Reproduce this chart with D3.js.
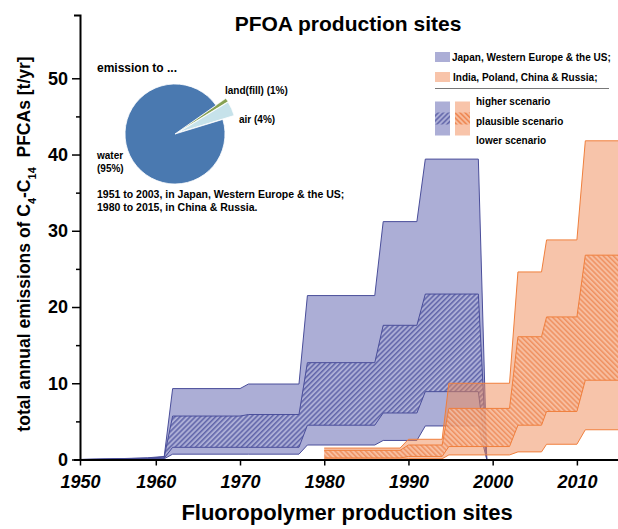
<!DOCTYPE html>
<html>
<head>
<meta charset="utf-8">
<script src="https://cdn.jsdelivr.net/npm/d3@7"></script>
<style>
body { margin: 0; background: #fff; }
svg { display: block; font-family: "Liberation Sans", Arial, sans-serif; }
</style>
</head>
<body>
<div id="chart"></div>
<script>
// Japan, Western Europe & the US (1951 - 1999)
const blueYears      = [1951, 1953, 1956, 1959, 1961, 1962, 1970, 1971, 1977, 1978, 1986, 1987, 1991, 1992, 1998.3, 1999.3];
const blueHigher     = [0, 0.05, 0.12, 0.22, 0.4, 9.3, 9.3, 9.9, 9.9, 21.5, 21.5, 31.2, 31.2, 39.4, 39.4, 0];
const bluePlausHigh  = [0, 0.04, 0.1, 0.18, 0.32, 5.7, 5.7, 5.9, 5.9, 12.7, 12.7, 17.6, 17.6, 21.7, 21.7, 0];
const bluePlausLow   = [0, 0.02, 0.05, 0.1, 0.18, 1.6, 1.6, 1.6, 1.6, 4.5, 4.5, 6.1, 6.1, 8.9, 8.9, 0];
const blueLower      = [0, 0.01, 0.02, 0.05, 0.1, 0.7, 0.7, 0.7, 0.7, 1.9, 1.9, 2.5, 2.5, 4.4, 4.4, 0];

// India, Poland, China & Russia (1980 - 2015)
const orangeYears     = [1980, 1989, 1990, 1994, 1994.8, 2002, 2003, 2005.8, 2006.4, 2010, 2011, 2015];
const orangeHigher    = [1.5, 1.5, 2.65, 2.65, 10.0, 10.0, 24.6, 24.6, 28.8, 28.8, 41.8, 41.8];
const orangePlausHigh = [1.2, 1.2, 1.9, 1.9, 6.7, 6.7, 16.1, 16.1, 18.7, 18.7, 26.8, 26.8];
const orangePlausLow  = [0.2, 0.2, 0.4, 0.4, 1.7, 1.7, 4.5, 4.5, 6.3, 6.3, 10.4, 10.4];
const orangeLower     = [0.05, 0.05, 0.1, 0.1, 0.6, 0.6, 1.0, 1.0, 2.0, 2.0, 3.9, 3.9];

const xTicks = [1950, 1960, 1970, 1980, 1990, 2000, 2010];
const yTicks = [0, 10, 20, 30, 40, 50];
const yMinorTicks = [5, 15, 25, 35, 45];

// pie: emission to ...
const pieNames  = ['land(fill)', 'air', 'water'];
const pieShares = [1, 4, 95];

const BLUE_FILL = '#acaed6', BLUE_LINE = '#4a4e9a', BLUE_HATCH = '#5358a2';
const ORANGE_FILL = '#f08a55', ORANGE_LINE = '#f07f3c', ORANGE_HATCH = '#ec7a40';

const svg = d3.select('#chart').append('svg')
.attr('width', 618)
.attr('height', 529);

const defs = svg.append('defs');

function hatch(id, bg, fg, angle) {
    let p = defs.append('pattern')
    .attr('id', id)
    .attr('patternUnits', 'userSpaceOnUse')
    .attr('width', 3.6)
    .attr('height', 3.6)
    .attr('patternTransform', 'rotate(' + angle + ')');
    p.append('rect').attr('width', 3.6).attr('height', 3.6).attr('fill', bg);
    p.append('line')
    .attr('x1', 0.8).attr('y1', 0).attr('x2', 0.8).attr('y2', 3.6)
    .attr('stroke', fg)
    .attr('stroke-width', 1.3);
}
hatch('hatchBlue', BLUE_FILL, BLUE_HATCH, 45);
hatch('hatchOrange', '#f7bd9e', ORANGE_HATCH, -45);

const x = d3.scaleLinear().domain([1951, 2015]).range([80, 619]).clamp(true);
const y = d3.scaleLinear().domain([0, 58.3]).range([459.5, 15]);

function rows(years, hi, lo) {
    return years.map((yr, i) => ({ year: yr, hi: hi[i], lo: lo[i] }));
}

const area = d3.area()
.x(d => x(d.year))
.y0(d => y(d.lo))
.y1(d => y(d.hi));

const line = d3.line()
.x(d => x(d.year))
.y(d => y(d.hi));

function drawGroup(years, higher, pHigh, pLow, lower, fill, opacity, hatchId, hatchOpacity, stroke) {
    let g = svg.append('g');
    g.append('path')
    .datum(rows(years, higher, lower))
    .attr('d', area)
    .attr('fill', fill)
    .attr('fill-opacity', opacity);
    g.append('path')
    .datum(rows(years, pHigh, pLow))
    .attr('d', area)
    .attr('fill', 'url(#' + hatchId + ')')
    .attr('fill-opacity', hatchOpacity);
    [higher, pHigh, pLow, lower].forEach(s => {
        g.append('path')
        .datum(rows(years, s, s))
        .attr('d', line)
        .attr('fill', 'none')
        .attr('stroke', stroke)
        .attr('stroke-width', 1);
    });
}

drawGroup(blueYears, blueHigher, bluePlausHigh, bluePlausLow, blueLower, BLUE_FILL, 1, 'hatchBlue', 1, BLUE_LINE);
drawGroup(orangeYears, orangeHigher, orangePlausHigh, orangePlausLow, orangeLower, ORANGE_FILL, 0.5, 'hatchOrange', 0.8, ORANGE_LINE);

// axes
const xAxis = svg.append('g')
.attr('transform', 'translate(0,' + y(0) + ')')
.call(d3.axisBottom(x).tickValues(xTicks).tickFormat(d3.format('d')).tickSize(6).tickSizeOuter(0));
xAxis.select('.domain').attr('stroke', '#000').attr('stroke-width', 2);
xAxis.selectAll('.tick line').attr('stroke', '#000').attr('stroke-width', 1.5);
xAxis.selectAll('.tick text')
.attr('dy', '1.1em')
.style('font-size', '18px')
.style('font-weight', 'bold')
.style('font-style', 'italic')
.attr('fill', '#000');

const yAxis = svg.append('g')
.attr('transform', 'translate(80,0)')
.call(d3.axisLeft(y).tickValues(yTicks).tickSize(8).tickSizeOuter(6).tickPadding(4));
yAxis.select('.domain').attr('stroke', '#000').attr('stroke-width', 2);
yAxis.selectAll('.tick line').attr('stroke', '#000').attr('stroke-width', 1.5);
yAxis.selectAll('.tick text')
.style('font-size', '18px')
.style('font-weight', 'bold')
.attr('fill', '#000');

svg.append('g')
.attr('transform', 'translate(80,0)')
.call(d3.axisLeft(y).tickValues(yMinorTicks).tickSize(4).tickFormat(''))
.call(g => g.select('.domain').remove())
.selectAll('.tick line').attr('stroke', '#000').attr('stroke-width', 1.5);

// titles
svg.append('text')
.attr('x', 348)
.attr('y', 31)
.attr('text-anchor', 'middle')
.style('font-size', '21px')
.style('font-weight', 'bold')
.text('PFOA production sites');

svg.append('text')
.attr('x', 347)
.attr('y', 520)
.attr('text-anchor', 'middle')
.style('font-size', '22px')
.style('font-weight', 'bold')
.text('Fluoropolymer production sites');

const yt = svg.append('text')
.attr('transform', 'translate(30,244) rotate(-90)')
.attr('text-anchor', 'middle')
.style('font-size', '17.5px')
.style('font-weight', 'bold');
yt.append('tspan').text('total annual emissions of C');
yt.append('tspan').attr('baseline-shift', 'sub').style('font-size', '11px').text('4');
yt.append('tspan').text('-C');
yt.append('tspan').attr('baseline-shift', 'sub').style('font-size', '11px').text('14');
yt.append('tspan').text('\u00a0 PFCAs [t/yr]');

// pie inset
const pie = d3.pie().sort(null)
.startAngle(55 * Math.PI / 180)
.endAngle(415 * Math.PI / 180);
const pieColors = ['#86a152', '#c6e2ea', '#4a79b0'];
const pieG = svg.append('g').attr('transform', 'translate(175,134)');
pie(pieShares).forEach((s, i) => {
    let big = i < 2;
    let mid = (s.startAngle + s.endAngle) / 2;
    pieG.append('path')
    .attr('d', d3.arc().innerRadius(0).outerRadius(big ? 59 : 50)(s))
    .attr('transform', big ? 'translate(' + 3 * Math.sin(mid) + ',' + (-3 * Math.cos(mid)) + ')' : null)
    .attr('fill', pieColors[i])
    .attr('stroke', '#fff')
    .attr('stroke-width', i === 0 ? 0.4 : 0.8);
});

const small = (t, px, py, anchor) => svg.append('text')
.attr('x', px)
.attr('y', py)
.attr('text-anchor', anchor || 'start')
.style('font-size', '10px')
.style('font-weight', 'bold')
.text(t);

small('emission to ...', 97, 72).style('font-size', '12px');
small(pieNames[0] + ' (' + pieShares[0] + '%)', 225, 94);
small(pieNames[1] + ' (' + pieShares[1] + '%)', 239, 123);
small(pieNames[2], 97, 159);
small('(' + pieShares[2] + '%)', 97, 172);
small('1951 to 2003, in Japan, Western Europe & the US;', 97, 198).style('font-size', '10.5px');
small('1980 to 2015, in China & Russia.', 97, 211).style('font-size', '10.5px');

// legend
svg.append('rect').attr('x', 435).attr('y', 52).attr('width', 15).attr('height', 10).attr('fill', BLUE_FILL);
small('Japan, Western Europe & the US;', 452, 61);
svg.append('rect').attr('x', 435).attr('y', 72).attr('width', 15).attr('height', 10).attr('fill', '#f8c4aa');
small('India, Poland, China & Russia;', 453, 81);
svg.append('line').attr('x1', 435).attr('x2', 609).attr('y1', 88.5).attr('y2', 88.5).attr('stroke', '#555').attr('stroke-width', 0.8);

[[435, BLUE_FILL, 'hatchBlue'], [455, '#f8c4aa', 'hatchOrange']].forEach(c => {
    svg.append('rect').attr('x', c[0]).attr('y', 101.5).attr('width', 15).attr('height', 34).attr('fill', c[1]);
    svg.append('rect').attr('x', c[0]).attr('y', 112.5).attr('width', 15).attr('height', 12).attr('fill', 'url(#' + c[2] + ')');
});
small('higher scenario', 476, 105);
small('plausible scenario', 476, 124.5);
small('lower scenario', 476, 144);
</script>
</body>
</html>
